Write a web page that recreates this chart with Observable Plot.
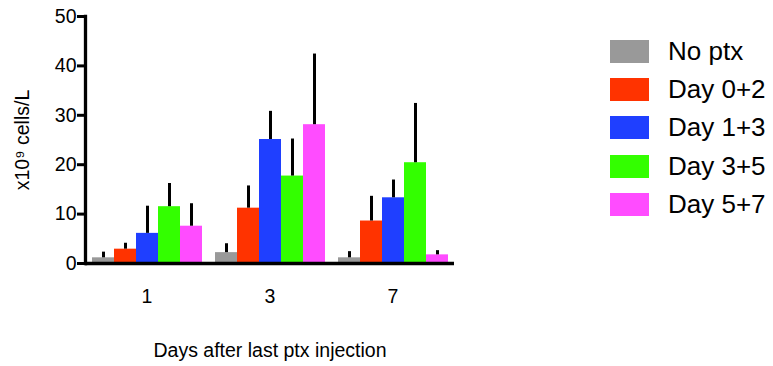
<!DOCTYPE html>
<html><head><meta charset="utf-8">
<script src="https://cdn.jsdelivr.net/npm/d3@7"></script>
<script src="https://cdn.jsdelivr.net/npm/@observablehq/plot@0.6"></script>
<style>
body{margin:0;background:#fff;}
#wrap{position:relative;width:773px;height:366px;font-family:"Liberation Sans",Arial,sans-serif;background:#fff;}
#legend{position:absolute;left:610px;top:40px;}
.row{display:flex;align-items:center;height:23px;margin-bottom:15.2px;}
.sw{width:39px;height:23px;margin-right:19px;}
.lab{font-size:26px;color:#000;line-height:23px;}
</style></head><body><div id="wrap"></div>
<script>
const days = ["1", "3", "7"];
const series = ["No ptx", "Day 0+2", "Day 1+3", "Day 3+5", "Day 5+7"];
const colors = ["#999999", "#ff3300", "#1f3fff", "#33ff00", "#ff4cff"];
const yTicks = [0, 10, 20, 30, 40, 50];
// means per series, in order of days
const noPtxMean = [1.15, 2.2, 1.15];
const day02Mean = [2.9, 11.2, 8.6];
const day13Mean = [6.1, 25.1, 13.3];
const day35Mean = [11.5, 17.7, 20.4];
const day57Mean = [7.55, 28.1, 1.75];
// upper error (SD) per series
const noPtxErr = [1.15, 1.8, 1.25];
const day02Err = [1.2, 4.5, 5.0];
const day13Err = [5.5, 5.7, 3.6];
const day35Err = [4.7, 7.5, 12.0];
const day57Err = [4.55, 14.3, 0.85];

const means = [noPtxMean, day02Mean, day13Mean, day35Mean, day57Mean];
const errs = [noPtxErr, day02Err, day13Err, day35Err, day57Err];
const data = [];
series.forEach((s, si) => days.forEach((d, di) => {
  data.push({day: d, series: s, mean: means[si][di], top: means[si][di] + errs[si][di]});
}));

const font = '"Liberation Sans", Arial, sans-serif';
const chart = Plot.plot({
  width: 773, height: 366,
  marginLeft: 85, marginRight: 319, marginTop: 16, marginBottom: 103,
  style: {fontFamily: font, fontSize: "19.5px", color: "#000", background: "#fff", overflow: "visible"},
  fx: {domain: days, padding: 0, label: null},
  x: {domain: series, paddingInner: 0, paddingOuter: 0.245, axis: null},
  y: {domain: [0, 50], label: null},
  color: {domain: series, range: colors},
  marks: [
    Plot.barY(data, {fx: "day", x: "series", y: "mean", fill: "series"}),
    Plot.ruleX(data, {fx: "day", x: "series", y1: "mean", y2: "top", stroke: "#000", strokeWidth: 3}),
    Plot.ruleY([0], {stroke: "#000", strokeWidth: 3.3}),
    Plot.frame({anchor: "left", fx: () => days[0], stroke: "#000", strokeWidth: 3.3}),
    Plot.axisY({ticks: yTicks, tickSize: 8, tickPadding: 1, strokeWidth: 3, fontSize: 19.5,
      label: "x10⁹ cells/L", labelAnchor: "center", labelOffset: 70, labelArrow: "none"}),
    Plot.axisFx({anchor: "bottom", tickSize: 0, tickPadding: 26, fontSize: 19.5,
      label: "Days after last ptx injection", labelAnchor: "center", labelOffset: 93, labelArrow: "none"})
  ]
});
const wrap = document.getElementById("wrap");
wrap.appendChild(chart);
const legend = document.createElement("div");
legend.id = "legend";
series.forEach((s, i) => {
  const row = document.createElement("div");
  row.className = "row";
  const sw = document.createElement("div");
  sw.className = "sw";
  sw.style.background = colors[i];
  const lab = document.createElement("span");
  lab.className = "lab";
  lab.textContent = s;
  row.appendChild(sw); row.appendChild(lab);
  legend.appendChild(row);
});
wrap.appendChild(legend);
</script></body></html>
